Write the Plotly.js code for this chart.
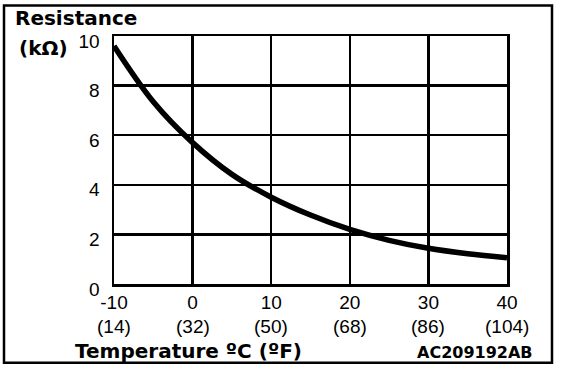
<!DOCTYPE html>
<html>
<head>
<meta charset="utf-8">
<script src="https://cdn.plot.ly/plotly-3.0.1.min.js"></script>
<style>html,body{margin:0;padding:0;background:#fff;}#chart{width:576px;height:372px;}</style>
</head>
<body>
<div id="chart"></div>
<script>
// Data
const tempC = [-10, -5, 0, 5, 10, 15, 20, 25, 30, 35, 40];
const resistanceK = [9.6, 7.35, 5.7, 4.42, 3.5, 2.78, 2.2, 1.76, 1.44, 1.22, 1.06];
const xTickVals = [-10, 0, 10, 20, 30, 40];
const xTickTextC = ['-10', '0', '10', '20', '30', '40'];
const xTickTextF = ['(14)', '(32)', '(50)', '(68)', '(86)', '(104)'];
const yTickVals = [0, 2, 4, 6, 8, 10];
const yTitleLines = ['Resistance', '(kΩ)'];
const xTitle = 'Temperature ºC (ºF)';
const figCode = 'AC209192AB';

const tickFont = {family: 'Liberation Sans, Arial, sans-serif', size: 19, color: '#000'};
const boldFont = {family: 'DejaVu Sans, sans-serif', size: 20, color: '#000', weight: 'bold'};

const trace = {
  x: tempC, y: resistanceK, type: 'scatter', mode: 'lines',
  line: {color: '#000', width: 5.5, shape: 'spline', smoothing: 1},
  hoverinfo: 'skip'
};

const annotations = [];
xTickVals.forEach((v, i) => {
  annotations.push({x: v, y: -0.17, xref: 'x', yref: 'paper', text: xTickTextF[i],
    showarrow: false, font: tickFont, xanchor: 'center', yanchor: 'middle'});
});
annotations.push({x: -0.257, y: 1.074, xref: 'paper', yref: 'paper', text: yTitleLines[0],
  showarrow: false, font: boldFont, xanchor: 'left', yanchor: 'middle'});
annotations.push({x: -0.247, y: 0.95, xref: 'paper', yref: 'paper', text: yTitleLines[1],
  showarrow: false, font: boldFont, xanchor: 'left', yanchor: 'middle'});
annotations.push({x: -0.104, y: -0.27, xref: 'paper', yref: 'paper', text: xTitle,
  showarrow: false, font: boldFont, xanchor: 'left', yanchor: 'middle'});
annotations.push({x: 1.07, y: -0.275, xref: 'paper', yref: 'paper', text: figCode,
  showarrow: false, font: Object.assign({}, boldFont, {size: 16}), xanchor: 'right', yanchor: 'middle'});

const layout = {
  width: 576, height: 372,
  margin: {l: 114, r: 69, t: 35.5, b: 88, pad: 0},
  paper_bgcolor: '#fff', plot_bgcolor: '#fff',
  showlegend: false,
  xaxis: {
    range: [-10, 40], tickmode: 'array', tickvals: xTickVals, ticktext: xTickTextC,
    showgrid: true, gridcolor: '#000', gridwidth: 2.5,
    showline: true, linecolor: '#000', linewidth: 2.5, mirror: true,
    ticks: '', tickfont: tickFont, zeroline: false, fixedrange: true
  },
  yaxis: {
    range: [0, 10], tickmode: 'array', tickvals: yTickVals,
    showgrid: true, gridcolor: '#000', gridwidth: 2.5,
    showline: true, linecolor: '#000', linewidth: 2.5, mirror: true,
    ticks: '', tickfont: tickFont, zeroline: false, fixedrange: true,
    ticklabelstandoff: 8, ticklabelshift: 5
  },
  annotations: annotations,
  shapes: [{
    type: 'rect', xref: 'paper', yref: 'paper',
    x0: -0.2799, x1: 1.1145, y0: -0.318, y1: 1.1227,
    line: {color: '#000', width: 2.5}, fillcolor: 'rgba(0,0,0,0)', layer: 'above'
  }]
};

Plotly.newPlot('chart', [trace], layout, {displayModeBar: false, staticPlot: true});
</script>
</body>
</html>
